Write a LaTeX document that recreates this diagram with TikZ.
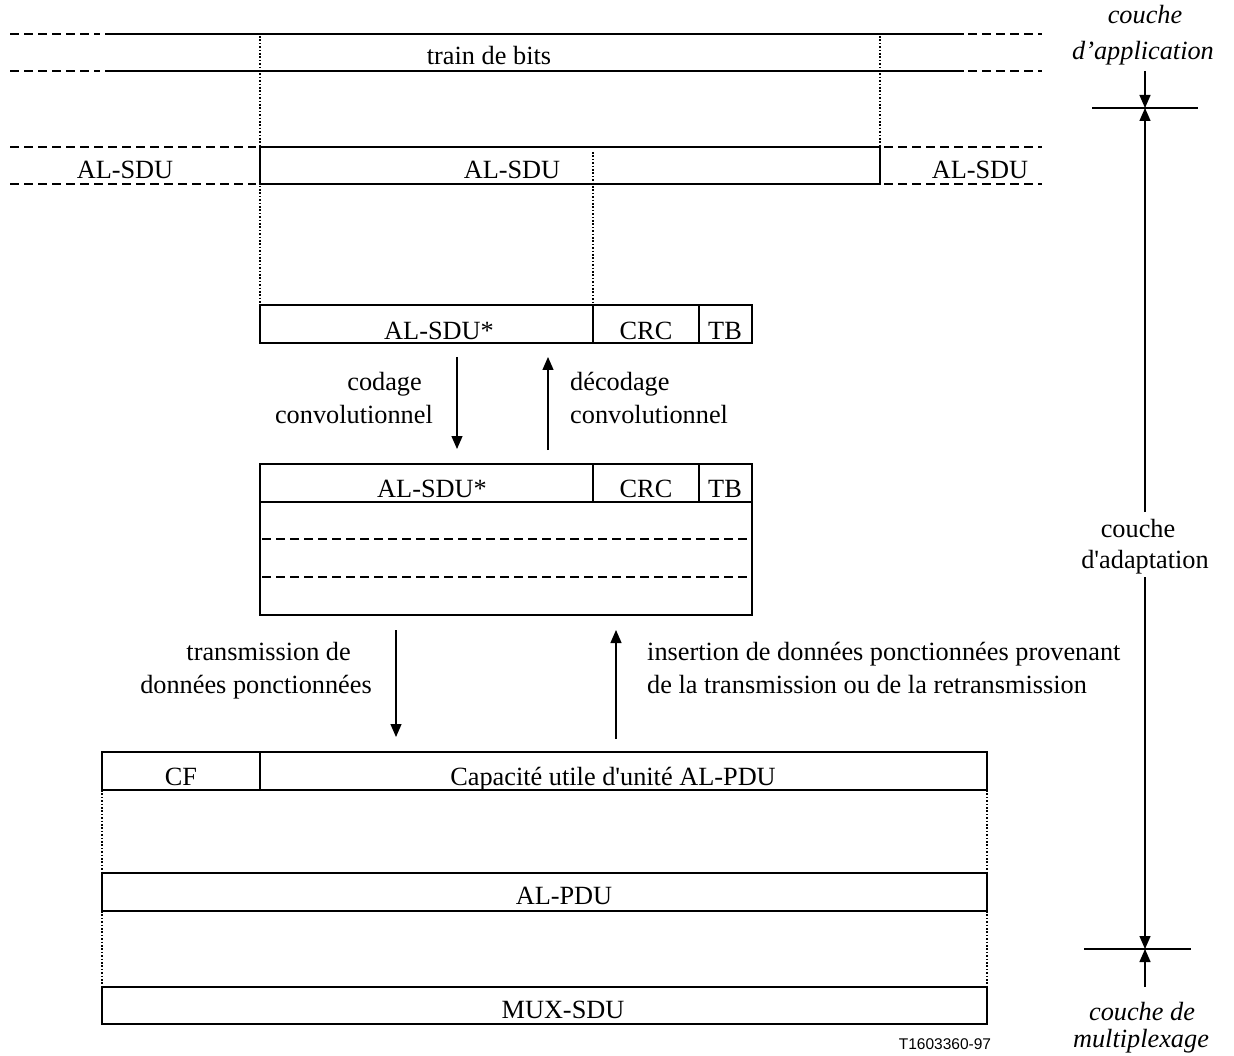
\documentclass[tikz,border=0pt]{standalone}
\usepackage{fontspec}
\setmainfont{Liberation Serif}
\newfontfamily\rawf{Liberation Serif}
\newfontfamily\sansf{Liberation Sans}
\usetikzlibrary{arrows.meta}
\begin{document}
\begin{tikzpicture}[x=1pt,y=-1pt,
  ln/.style={line width=1.3pt},
  bx/.style={line width=1.1pt},
  dsh/.style={line width=1.3pt, dash pattern=on 9pt off 5pt},
  dotl/.style={line width=1.6pt, dash pattern=on 1.6pt off 1.8pt},
  arr/.style={line width=1.3pt, -{Triangle[length=13pt,width=11pt]}},
  lbl/.style={font=\fontsize{26.3}{31}\selectfont, inner sep=0pt, anchor=base},
  ilbl/.style={font=\fontsize{26.3}{31}\selectfont\itshape, inner sep=0pt, anchor=base},
]
\useasboundingbox (0,0) rectangle (1234,1056);

% --- bit stream ---
\draw[dsh] (10,34) -- (100,34);
\draw[ln] (105,34) -- (964,34);
\draw[dsh] (968,34) -- (1042,34);
\draw[dsh] (10,71) -- (100,71);
\draw[ln] (105,71) -- (964,71);
\draw[dsh] (968,71) -- (1042,71);
\node[lbl] (bits) at (489,65) {train de bits};

% dotted verticals
\draw[dotl] (260,36) -- (260,305);
\draw[dotl] (880,36) -- (880,147);
\draw[dotl] (593,152) -- (593,305);

% --- AL-SDU row ---
\draw[dsh] (10,147) -- (256,147);
\draw[dsh] (10,184) -- (256,184);
\draw[bx] (260,147) rectangle (880,184);
\draw[dsh] (884,147) -- (1042,147);
\draw[dsh] (884,184) -- (1042,184);
\node[lbl] (sduL) at (125,179) {AL-SDU};
\node[lbl] (sduM) at (512,179) {AL-SDU};
\node[lbl] (sduR) at (980,179) {AL-SDU};

% --- AL-SDU* box 1 ---
\draw[bx] (260,305) rectangle (752,343);
\draw[bx] (593,305) -- (593,343);
\draw[bx] (699,305) -- (699,343);
\node[lbl] (s1) at (439,340) {AL-SDU*};
\node[lbl] (c1) at (646,340) {CRC};
\node[lbl] (t1) at (725,340) {TB};

% arrows coding
\coordinate (a1s) at (457,357);
\coordinate (a1e) at (457,449);
\coordinate (a2s) at (548,450);
\coordinate (a2e) at (548,357);
\draw[arr] (a1s) -- (a1e);
\draw[arr] (a2s) -- (a2e);
\node[lbl, anchor=base east] (cod1) at (422,391) {codage};
\node[lbl, anchor=base east] (cod2) at (433,423) {convolutionnel};
\node[lbl, anchor=base west] (dec1) at (570,391) {décodage};
\node[lbl, anchor=base west] (dec2) at (570,423) {convolutionnel};

% --- AL-SDU* box 2 ---
\draw[bx] (260,464) rectangle (752,615);
\draw[bx] (260,502) -- (752,502);
\draw[bx] (593,464) -- (593,502);
\draw[bx] (699,464) -- (699,502);
\draw[dsh] (262,539) -- (750,539);
\draw[dsh] (262,577) -- (750,577);
\node[lbl] (s2) at (432,497) {AL-SDU*};
\node[lbl] (c2) at (646,497) {CRC};
\node[lbl] (t2) at (725,497) {TB};

% arrows puncturing
\coordinate (b1s) at (396,630);
\coordinate (b1e) at (396,737);
\coordinate (b2s) at (616,739);
\coordinate (b2e) at (616,630);
\draw[arr] (b1s) -- (b1e);
\draw[arr] (b2s) -- (b2e);
\node[lbl, anchor=base east] (tr1) at (351,660) {transmission de};
\node[lbl, anchor=base east] (tr2) at (372,693) {données ponctionnées};
\node[lbl, anchor=base west] (in1) at (647,660) {insertion de données ponctionnées provenant};
\node[lbl, anchor=base west] (in2) at (647,693) {de la transmission ou de la retransmission};

% --- AL-PDU ---
\draw[bx] (102,752) rectangle (987,790);
\draw[ln] (260,752) -- (260,790);
\node[lbl] (cf) at (181,785) {CF};
\node[lbl] (cap) at (613,785) {\rawf Capacité utile d'unité AL-PDU};
\draw[dotl] (102,790) -- (102,873);
\draw[dotl] (987,790) -- (987,873);
\draw[bx] (102,873) rectangle (987,911);
\node[lbl] (pdu) at (564,904) {AL-PDU};
\draw[dotl] (102,911) -- (102,987);
\draw[dotl] (987,911) -- (987,987);
\draw[bx] (102,987) rectangle (987,1024);
\node[lbl] (mux) at (563,1018) {MUX-SDU};

\node[font=\sansf\fontsize{15.5}{18}\selectfont, inner sep=0pt, anchor=base] (ref) at (945,1049) {T1603360-97};

% --- right-hand dimension ---
\coordinate (d0) at (1145,71);
\coordinate (d1) at (1145,108);
\coordinate (d2) at (1145,512);
\coordinate (d3) at (1145,577);
\coordinate (d4) at (1145,949);
\coordinate (d5) at (1145,987);
\draw[ln] (1092,108) -- (1198,108);
\draw[ln] (1084,949) -- (1191,949);
\draw[arr] (d0) -- (d1);
\draw[arr] (d2) -- (d1);
\draw[arr] (d3) -- (d4);
\draw[arr] (d5) -- (d4);
\node[ilbl] (app1) at (1145,24) {couche};
\node[ilbl] (app2) at (1143,60) {d’application};
\node[lbl] (ada1) at (1138,537) {couche};
\node[lbl] (ada2) at (1145,568) {\rawf d'adaptation};
\node[ilbl] (mux1) at (1142,1020) {couche de};
\node[ilbl] (mux2) at (1141,1047) {multiplexage};
\end{tikzpicture}
\end{document}
